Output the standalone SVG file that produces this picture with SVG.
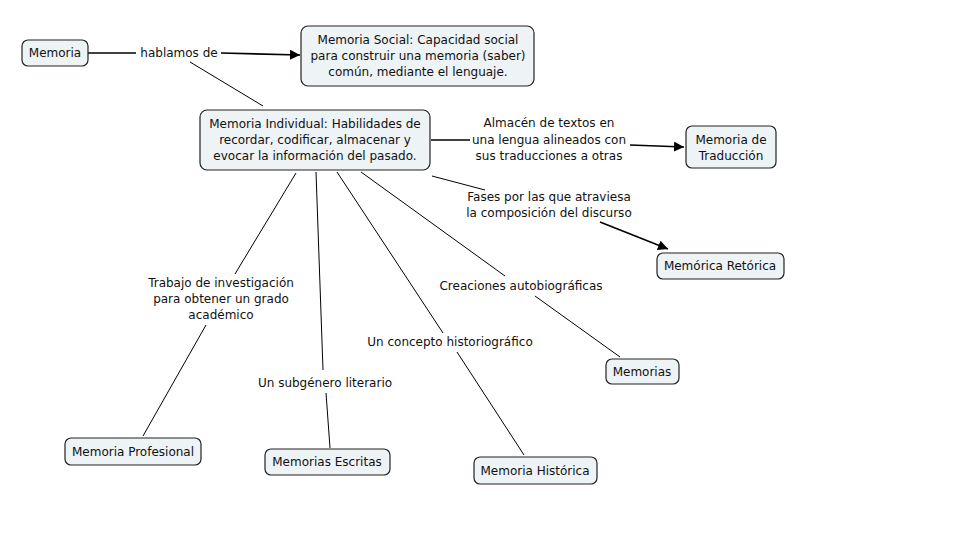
<svg xmlns="http://www.w3.org/2000/svg" width="960" height="540" viewBox="0 0 960 540">
<defs>
<marker id="arr" viewBox="0 0 10 10" refX="10" refY="5" markerWidth="10" markerHeight="10" markerUnits="userSpaceOnUse" orient="auto">
<path d="M0,0 L10,5 L0,10 z" fill="#000"/>
</marker>
<style>
.node rect{fill:#eef3f5;stroke:#222;stroke-width:1.2}
text{font-family:"DejaVu Sans","Liberation Sans",sans-serif;font-size:12px;fill:#111;text-anchor:middle}
#connectors line,#connectors path{stroke:#000;stroke-width:1;fill:none}
#connectors .a{stroke-width:1.6}
</style>
</defs>
<rect width="960" height="540" fill="#fff"/>
<g id="connectors">
<line class="a" x1="88" y1="53" x2="136" y2="53"/>
<line class="a" x1="221" y1="53" x2="300" y2="55" marker-end="url(#arr)"/>
<line x1="190" y1="62" x2="263" y2="106"/>
<line class="a" x1="431" y1="140" x2="470" y2="140"/>
<line class="a" x1="630" y1="145" x2="684" y2="147" marker-end="url(#arr)"/>
<line x1="432" y1="176" x2="485" y2="190"/>
<line class="a" x1="600" y1="222" x2="668" y2="249" marker-end="url(#arr)"/>
<line x1="296" y1="173" x2="235" y2="274"/>
<line x1="206" y1="325" x2="143" y2="436"/>
<line x1="316" y1="172" x2="323" y2="370"/>
<line x1="326" y1="393" x2="330" y2="448"/>
<line x1="337" y1="172" x2="443" y2="333"/>
<line x1="457" y1="352" x2="524" y2="455"/>
<line x1="361" y1="172" x2="505" y2="276"/>
<line x1="535" y1="296" x2="620" y2="357"/>
</g>
<g id="labels">
<text x="179" y="57">hablamos de</text>
<text x="549" y="127">Almacén de textos en</text>
<text x="549" y="144">una lengua alineados con</text>
<text x="549" y="160">sus traducciones a otras</text>
<text x="549" y="201">Fases por las que atraviesa</text>
<text x="549" y="217">la composición del discurso</text>
<text x="221" y="287">Trabajo de investigación</text>
<text x="221" y="303">para obtener un grado</text>
<text x="221" y="319">académico</text>
<text x="325" y="387">Un subgénero literario</text>
<text x="450" y="346">Un concepto historiográfico</text>
<text x="521" y="290">Creaciones autobiográficas</text>
</g>
<g id="n-memoria" class="node"><rect x="22" y="40" width="66" height="26" rx="6"/><text x="55" y="57">Memoria</text></g>
<g id="n-social" class="node"><rect x="301" y="26" width="233" height="60" rx="7"/>
<text x="418" y="44">Memoria Social: Capacidad social</text>
<text x="418" y="60">para construir una memoria (saber)</text>
<text x="418" y="76">común, mediante el lenguaje.</text></g>
<g id="n-individual" class="node"><rect x="200" y="110" width="230" height="60" rx="7"/>
<text x="315" y="128">Memoria Individual: Habilidades de</text>
<text x="315" y="144">recordar, codificar, almacenar y</text>
<text x="315" y="160">evocar la información del pasado.</text></g>
<g id="n-traduccion" class="node"><rect x="686" y="126" width="90" height="42" rx="6"/>
<text x="731" y="144">Memoria de</text>
<text x="731" y="160">Traducción</text></g>
<g id="n-retorica" class="node"><rect x="657" y="253" width="127" height="26" rx="6"/><text x="720" y="270">Memórica Retórica</text></g>
<g id="n-memorias" class="node"><rect x="606" y="359" width="73" height="25" rx="6"/><text x="642" y="376">Memorias</text></g>
<g id="n-profesional" class="node"><rect x="65" y="438" width="136" height="27" rx="6"/><text x="133" y="456">Memoria Profesional</text></g>
<g id="n-escritas" class="node"><rect x="265" y="449" width="125" height="26" rx="6"/><text x="327" y="466">Memorias Escritas</text></g>
<g id="n-historica" class="node"><rect x="474" y="457" width="123" height="27" rx="6"/><text x="535" y="475">Memoria Histórica</text></g>
</svg>
